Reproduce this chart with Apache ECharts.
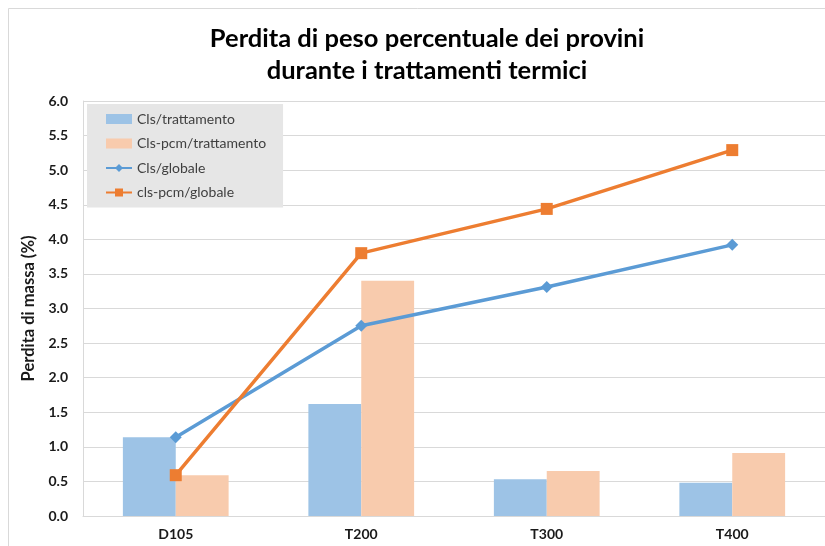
<!DOCTYPE html>
<html>
<head>
    <meta charset="utf-8">
    <title>Perdita di peso</title>
    <script src="https://cdn.jsdelivr.net/npm/echarts@6/dist/echarts.min.js"></script>
    <style>
        html, body { margin: 0; padding: 0; background: #fff; }
    </style>
</head>
<body>
    <div id="main" style="width: 825px; height: 546px;"></div>
    <script type="text/javascript">
        // dati
        var categorie = ['D105', 'T200', 'T300', 'T400'];
        var clsTrattamento = [1.14, 1.62, 0.53, 0.48];
        var clsPcmTrattamento = [0.59, 3.40, 0.65, 0.91];
        var clsGlobale = [1.14, 2.75, 3.31, 3.92];
        var clsPcmGlobale = [0.59, 3.80, 4.44, 5.29];
        var yTicks = ['0.0', '0.5', '1.0', '1.5', '2.0', '2.5', '3.0', '3.5', '4.0', '4.5', '5.0', '5.5', '6.0'];

        var FONT = 'Lato';
        var myChart = echarts.init(document.getElementById('main'));

        var option = {
            backgroundColor: '#fff',
            animation: false,
            textStyle: { fontFamily: FONT },
            graphic: [{
                type: 'rect',
                shape: { x: 8.5, y: 8.5, width: 840, height: 560 },
                style: { fill: 'none', stroke: '#d9d9d9', lineWidth: 1 },
                z: -10
            }],
            title: {
                text: 'Perdita di peso percentuale dei provini\ndurante i trattamenti termici',
                left: 422,
                top: 18,
                textAlign: 'center',
                textStyle: {
                    fontFamily: FONT,
                    fontSize: 25.5,
                    fontWeight: 'bold',
                    color: '#000',
                    lineHeight: 32
                }
            },
            legend: {
                orient: 'vertical',
                left: 87,
                top: 104,
                backgroundColor: '#e6e6e6',
                padding: [8, 17, 8, 18],
                itemGap: 10.5,
                itemWidth: 26,
                itemHeight: 10,
                textStyle: { fontFamily: FONT, fontSize: 14, color: '#404040' },
                data: [
                    { name: 'Cls/trattamento', icon: 'rect' },
                    { name: 'Cls-pcm/trattamento', icon: 'rect' },
                    { name: 'Cls/globale' },
                    { name: 'cls-pcm/globale' }
                ]
            },
            grid: {
                left: 83,
                right: 0,
                top: 101,
                bottom: 30
            },
            xAxis: {
                type: 'category',
                data: categorie,
                axisTick: { show: false },
                axisLine: { lineStyle: { color: '#d9d9d9', width: 1 } },
                axisLabel: {
                    fontFamily: FONT,
                    fontSize: 14,
                    fontWeight: 'bold',
                    color: '#1a1a1a',
                    margin: 11
                }
            },
            yAxis: {
                type: 'value',
                min: 0,
                max: 6,
                interval: 0.5,
                name: 'Perdita di massa (%)',
                nameLocation: 'middle',
                nameGap: 44,
                nameTextStyle: {
                    fontFamily: FONT,
                    fontSize: 16.5,
                    fontWeight: 'bold',
                    color: '#1a1a1a'
                },
                axisLine: { show: true, lineStyle: { color: '#d9d9d9' } },
                axisTick: { show: false },
                splitLine: { lineStyle: { color: '#d9d9d9', width: 1 } },
                axisLabel: {
                    fontFamily: FONT,
                    fontSize: 14,
                    fontWeight: 'bold',
                    color: '#1a1a1a',
                    margin: 15,
                    formatter: function (v) {
                        return yTicks[Math.round(v * 2)];
                    }
                }
            },
            series: [
                {
                    name: 'Cls/trattamento',
                    type: 'bar',
                    data: clsTrattamento,
                    barGap: '0%',
                    barCategoryGap: '43%',
                    itemStyle: { color: '#9dc3e6' }
                },
                {
                    name: 'Cls-pcm/trattamento',
                    type: 'bar',
                    data: clsPcmTrattamento,
                    itemStyle: { color: '#f8cbad' }
                },
                {
                    name: 'Cls/globale',
                    type: 'line',
                    data: clsGlobale,
                    symbol: 'diamond',
                    symbolSize: 12,
                    lineStyle: { color: '#5b9bd5', width: 3.5 },
                    itemStyle: { color: '#5b9bd5' },
                    z: 5
                },
                {
                    name: 'cls-pcm/globale',
                    type: 'line',
                    data: clsPcmGlobale,
                    symbol: 'rect',
                    symbolSize: 12,
                    lineStyle: { color: '#ed7d31', width: 3.5 },
                    itemStyle: { color: '#ed7d31' },
                    z: 6
                }
            ]
        };

        myChart.setOption(option);
    </script>
</body>
</html>
